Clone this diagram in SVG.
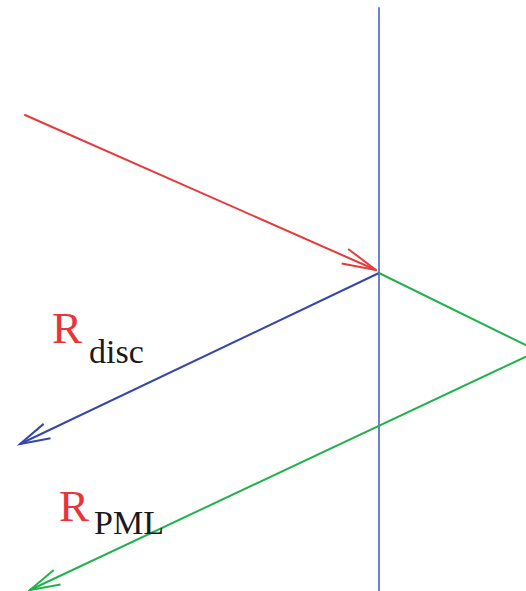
<svg xmlns="http://www.w3.org/2000/svg" width="526" height="591" viewBox="0 0 526 591">
<style>
.ln{fill:none;stroke-width:2;stroke-linecap:round;stroke-linejoin:round}
.R{font-family:"Liberation Serif","Times New Roman",serif;font-size:45px;fill:#e8353a}
.sub{font-family:"Liberation Serif","Times New Roman",serif;font-size:34px;fill:#1a1a1a}
</style>
<defs>
<marker id="mr" markerWidth="40" markerHeight="20" refX="34" refY="10" orient="auto" markerUnits="userSpaceOnUse" overflow="visible"><path d="M0 2 L34 10 L0 18" fill="none" stroke="#e8393c" stroke-width="2"/></marker>
<marker id="mb" markerWidth="40" markerHeight="20" refX="34" refY="10" orient="auto" markerUnits="userSpaceOnUse" overflow="visible"><path d="M4 2 L34 10 L4 18" fill="none" stroke="#3547ad" stroke-width="2"/></marker>
<marker id="mg" markerWidth="40" markerHeight="20" refX="34" refY="10" orient="auto" markerUnits="userSpaceOnUse" overflow="visible"><path d="M4 2 L34 10 L4 18" fill="none" stroke="#22b24c" stroke-width="2"/></marker>
</defs>
<g id="interface"><line x1="379" y1="8" x2="379" y2="591" class="ln" stroke="#6d80d0" stroke-width="2.5"/></g>
<g id="connectors">
<line id="incident" x1="25" y1="115" x2="376" y2="270" class="ln" stroke="#e8393c" marker-end="url(#mr)"/>
<line id="reflected" x1="379" y1="273" x2="20" y2="444" class="ln" stroke="#3547ad" marker-end="url(#mb)"/>
<polyline id="pml" points="379,273 538,351 30,590" class="ln" stroke="#22b24c" marker-end="url(#mg)"/>
</g>
<g id="label-disc"><text x="52" y="343" class="R">R</text><text x="89" y="363" class="sub">disc</text></g>
<g id="label-pml"><text x="59" y="521" class="R">R</text><text x="94" y="534" class="sub">PML</text></g>
</svg>
